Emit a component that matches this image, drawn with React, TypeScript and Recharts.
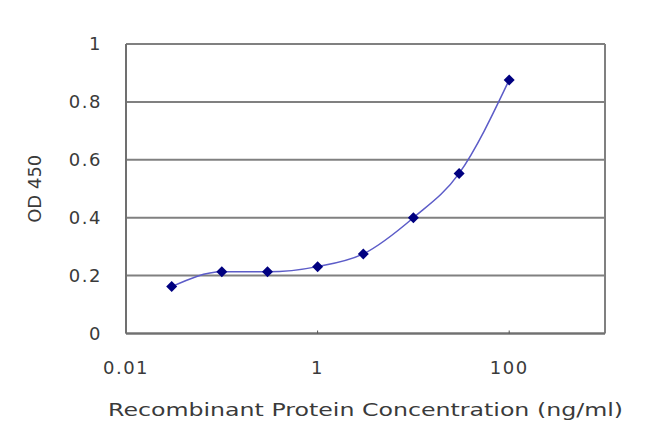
import { CartesianGrid, Label, Line, LineChart, ReferenceLine, XAxis, YAxis } from 'recharts'

const concentrations = [0.03, 0.1, 0.3, 1, 3, 10, 30, 100]
const od450 = [0.162, 0.213, 0.213, 0.231, 0.275, 0.4, 0.553, 0.876]
const xTicks = [0.01, 1, 100]
const yTicks = [0, 0.2, 0.4, 0.6, 0.8, 1]
const xTitle = 'Recombinant Protein Concentration (ng/ml)'
const yTitle = 'OD 450'

const data = concentrations.map((c, i) => ({ c, od: od450[i] }))

const FONT = 'DejaVu Sans, sans-serif'
const TEXT = '#3a3a3a'

function Diamond(props: any) {
  const { cx, cy } = props
  if (cx == null || cy == null) return null
  const r = 5.5
  return (
    <polygon
      points={`${cx},${cy - r} ${cx + r},${cy} ${cx},${cy + r} ${cx - r},${cy}`}
      fill="#000080"
    />
  )
}

// the reference title is drawn wide, so stretch it to its measured length
function XTitle(props: any) {
  const { viewBox } = props
  if (!viewBox) return null
  const cx = viewBox.x + viewBox.width / 2
  const baseline = viewBox.y + viewBox.height - 17
  return (
    <text
      x={cx}
      y={baseline}
      textAnchor="middle"
      textLength={515}
      lengthAdjust="spacingAndGlyphs"
      fill={TEXT}
      fontSize={18}
      fontFamily={FONT}
    >
      {xTitle}
    </text>
  )
}

export default function App() {
  return (
    <div style={{ position: 'absolute', left: 0, top: 0, background: '#fff' }}>
      <LineChart
        width={650}
        height={433}
        data={data}
        margin={{ top: 44, right: 45, left: 0, bottom: 0 }}
        style={{ fontFamily: FONT }}
      >
        <CartesianGrid vertical={false} stroke="#808080" strokeWidth={2} />
        <XAxis
          dataKey="c"
          type="number"
          scale="log"
          domain={[0.01, 1000]}
          ticks={xTicks}
          tickFormatter={(v) => String(v)}
          height={99.5}
          axisLine={{ stroke: '#707070', strokeWidth: 2 }}
          tickLine={{ stroke: '#555' }}
          tickSize={-3}
          tickMargin={31}
          tick={{ fill: TEXT, fontSize: 18, letterSpacing: 1.5 }}
        >
          <Label content={<XTitle />} />
        </XAxis>
        <YAxis
          type="number"
          domain={[0, 1]}
          ticks={yTicks}
          width={126}
          axisLine={{ stroke: '#707070', strokeWidth: 2 }}
          tickLine={false}
          tickMargin={18}
          tick={{ fill: TEXT, fontSize: 18, letterSpacing: 1.5 }}
        >
          <Label
            value={yTitle}
            angle={-90}
            position="insideLeft"
            offset={35}
            style={{ fill: TEXT, fontSize: 18, fontFamily: FONT, textAnchor: 'middle' }}
          />
        </YAxis>
        <ReferenceLine x={1000} stroke="#808080" strokeWidth={2} />
        <Line
          type="monotone"
          dataKey="od"
          stroke="#5c5cc8"
          strokeWidth={1.5}
          dot={<Diamond />}
          isAnimationActive={false}
        />
      </LineChart>
    </div>
  )
}
